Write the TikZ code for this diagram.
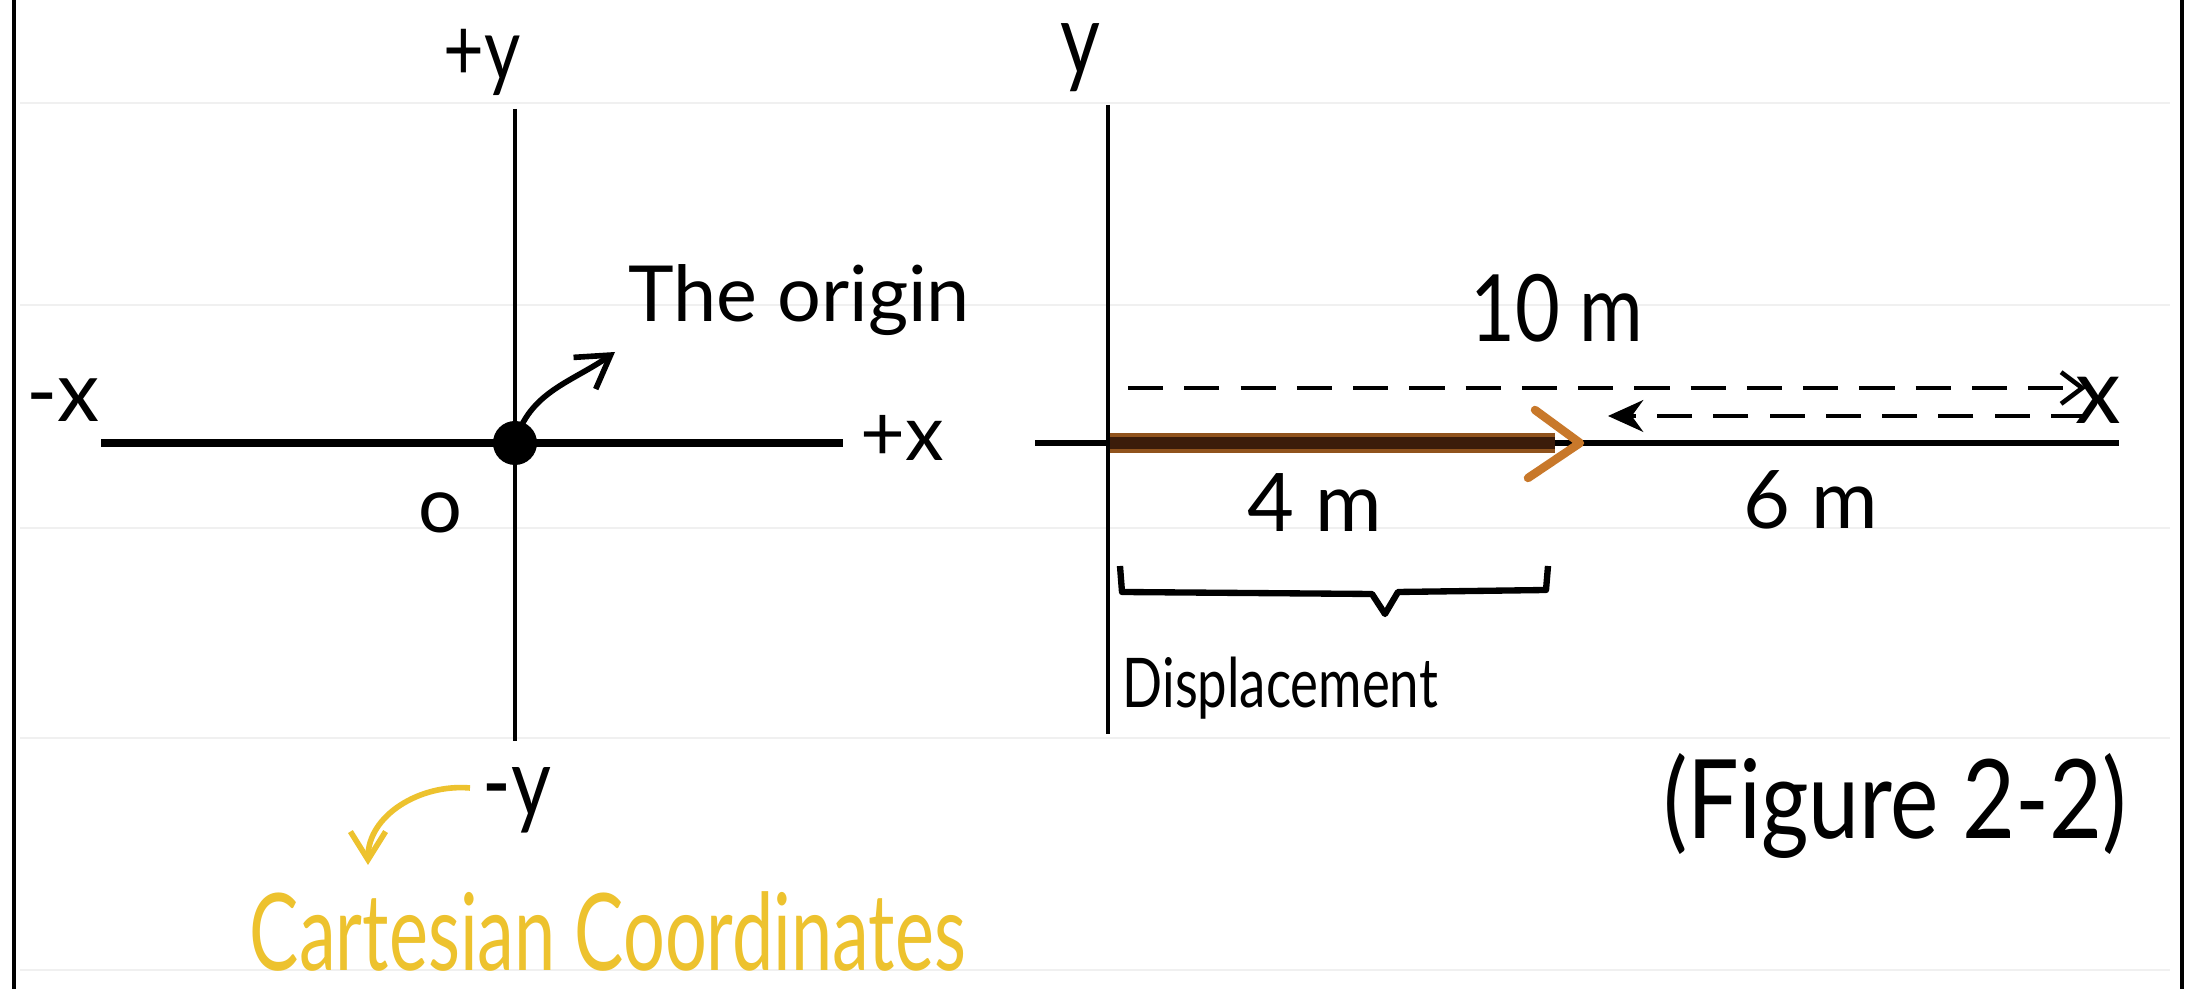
\documentclass[tikz,border=0pt]{standalone}
\usepackage{fontspec}
\usepackage{graphicx}
\setmainfont{Lato}
\usetikzlibrary{arrows.meta,calc}
\definecolor{gold}{HTML}{EDC22E}
\definecolor{brownarr}{HTML}{3B1C0A}
\definecolor{orangeedge}{HTML}{C8782A}
\tikzset{
  frameline/.style={line width=1.3pt,black},
  axisline/.style={line width=1.2pt,black},
  xaxisline/.style={line width=2.2pt,black},
  paperline/.style={line width=0.6pt,gray!12},
  lbl/.style={inner sep=0pt,font=\fontsize{#1}{#1}\selectfont},
  dashline/.style={line width=1.3pt,dash pattern=on 10pt off 6pt},
}
\begin{document}
\begin{tikzpicture}[x=0.01cm,y=-0.01cm]
\useasboundingbox (0,0) rectangle (2193,989);
\fill[white] (0,0) rectangle (2193,989);
% faint ruled paper lines
\foreach \yy in {103,305,528,738,970}
  \draw[paperline] (20,\yy) -- (2170,\yy);
% frame
\coordinate (fl1) at (14,0); \coordinate (fl2) at (14,989);
\coordinate (fr1) at (2182,0); \coordinate (fr2) at (2182,989);
\draw[frameline] (fl1) -- (fl2);
\draw[frameline] (fr1) -- (fr2);

% ---------- left: Cartesian axes ----------
\coordinate (lvt) at (515,109); \coordinate (lvb) at (515,741);
\coordinate (lhl) at (101,443); \coordinate (lhr) at (843,443);
\draw[axisline] (lvt) -- (lvb);
\draw[xaxisline] (lhl) -- (lhr);
\fill (515,443) circle (22) coordinate (dot);
\node[lbl=20pt] (py) at (482,62) {\scalebox{1}[1.25]{+y}};
\node[lbl=24pt] (mx) at (63,400) {-x};
\node[lbl=22pt] (px) at (902,438) {+x};
\node[lbl=22pt] (zero) at (440,513) {o};
\node[lbl=22pt] (my) at (517,800) {\scalebox{1}[1.25]{-y}};
\node[lbl=22pt,anchor=west] (orig) at (628,300) {The origin};
\coordinate (origtip) at (615,352);
\draw[line width=1.6pt,-{Straight Barb[length=9pt,width=11pt]}] (dot) to[out=75,in=215] (origtip);
\node[lbl=21pt,text=gold] (cart) at (608,932) {\scalebox{1}[1.45]{Cartesian Coordinates}};
\coordinate (carttip) at (368,865);
\coordinate (cartstart) at (470,788);
\draw[gold,line width=1.6pt,-{Straight Barb[length=8pt,width=10pt]}] (cartstart) to[out=175,in=90] (carttip);

% ---------- right: displacement ----------
\coordinate (rvt) at (1108,105); \coordinate (rvb) at (1108,734);
\coordinate (rhl) at (1035,443); \coordinate (rhr) at (2119,443);
\draw[axisline] (rvt) -- (rvb);
\draw[line width=1.6pt] (rhl) -- (rhr);
\node[lbl=22pt] (ylab) at (1080,58) {\scalebox{1}[1.3]{y}};
\node[lbl=26pt] (xlab) at (2098,400) {x};
\coordinate (da) at (1110,443); \coordinate (db) at (1580,443);
\draw[line width=5.5pt,orangeedge!60!brownarr] (da) -- ($(db)+(-25,0)$);
\draw[line width=3.5pt,brownarr] (da) -- ($(db)+(-25,0)$);
\draw[orangeedge,line width=2.4pt,line cap=round,line join=round] (1535,410) -- (db) -- (1528,478);
% dashed 10 m line
\coordinate (ta) at (1128,388); \coordinate (tb) at (2086,388);
\draw[dashline,-{Straight Barb[length=6pt,width=9pt]}] (ta) -- (tb);
% dashed 6 m back arrow
\coordinate (ba) at (2086,416); \coordinate (bb) at (1608,416);
\draw[dashline,-{Stealth[length=10pt,width=9pt]}] (ba) -- (bb);
\node[lbl=22pt] (ten) at (1557,308) {\scalebox{1}[1.2]{10 m}};
\node[lbl=23pt] (four) at (1315,503) {4 m};
\node[lbl=23pt] (six) at (1811,500) {6 m};
% brace (hand drawn style)
\coordinate (bra) at (1120,566); \coordinate (brb) at (1548,566);
\coordinate (brtip) at (1385,614);
\draw[line width=1.8pt,line join=round] (bra) -- (1122,592) -- (1372,594) -- (brtip) -- (1398,592) -- (1546,590) -- (brb);
\node[lbl=15pt,anchor=west] (disp) at (1122,688) {\scalebox{1}[1.3]{Displacement}};
\node[lbl=26pt] (fig) at (1895,806) {\scalebox{1}[1.2]{(Figure 2-2)}};
\end{tikzpicture}
\end{document}
